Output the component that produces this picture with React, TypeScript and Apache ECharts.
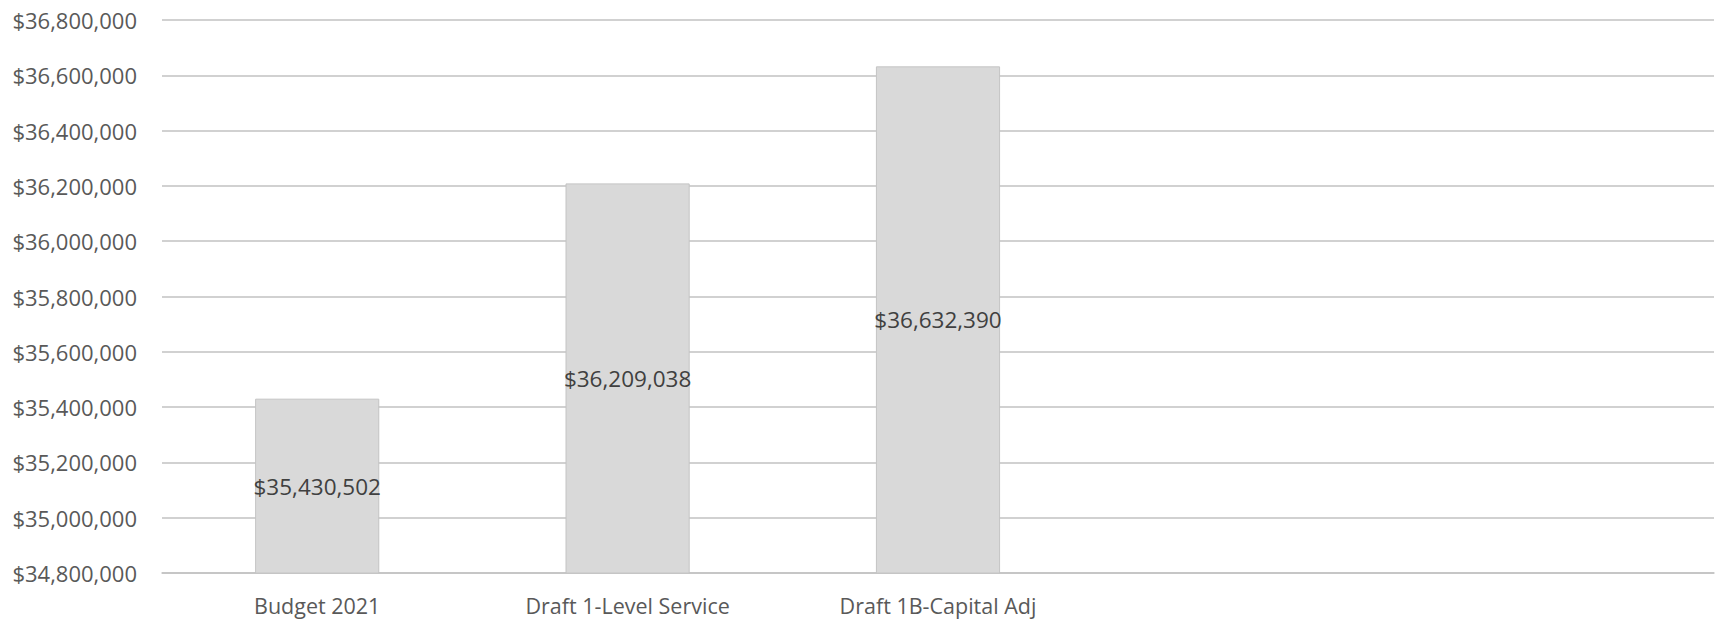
import React, { useEffect, useRef } from "react";
import * as echarts from "echarts";

const categories = ["Budget 2021", "Draft 1-Level Service", "Draft 1B-Capital Adj", "", " "];
const values = [35430502, 36209038, 36632390, null, null];
const yMin = 34800000;
const yMax = 36800000;
const yStep = 200000;

const fmt = (v: number) => "$" + Math.round(v).toLocaleString("en-US");

export default function App() {
  const ref = useRef<HTMLDivElement>(null);
  useEffect(() => {
    if (!ref.current) return;
    const chart = echarts.init(ref.current, undefined, { renderer: "svg" });
    chart.setOption({
      animation: false,
      backgroundColor: "#ffffff",
      grid: { left: 162, right: 4, top: 20, bottom: 48, containLabel: false },
      xAxis: {
        type: "category",
        data: categories,
        axisLine: { show: true, lineStyle: { color: "#c2c2c2", width: 1.5 } },
        axisTick: { show: false },
        axisLabel: {
          color: "#595959",
          fontFamily: "Open Sans",
          fontSize: 21.5,
          lineHeight: 22,
          margin: 21,
          interval: 0,
        },
      },
      yAxis: {
        type: "value",
        min: yMin,
        max: yMax,
        interval: yStep,
        axisLine: { show: false },
        axisTick: { show: false },
        splitLine: { lineStyle: { color: "#c2c2c2", width: 1.5 } },
        axisLabel: {
          color: "#595959",
          fontFamily: "Open Sans",
          fontSize: 22,
          margin: 25,
          formatter: (v: number) => fmt(v),
        },
      },
      series: [
        {
          type: "bar",
          data: values,
          barWidth: "40%",
          itemStyle: { color: "#d9d9d9", borderColor: "#c4c4c4", borderWidth: 1 },
          label: {
            show: true,
            position: "inside",
            color: "#404040",
            fontFamily: "Open Sans",
            fontSize: 22.5,
            formatter: (p: any) => fmt(p.value),
          },
        },
      ],
    });
    return () => chart.dispose();
  }, []);
  return (
    <div
      ref={ref}
      style={{ position: "fixed", left: 0, top: 0, width: 1718, height: 621, background: "#fff" }}
    />
  );
}
